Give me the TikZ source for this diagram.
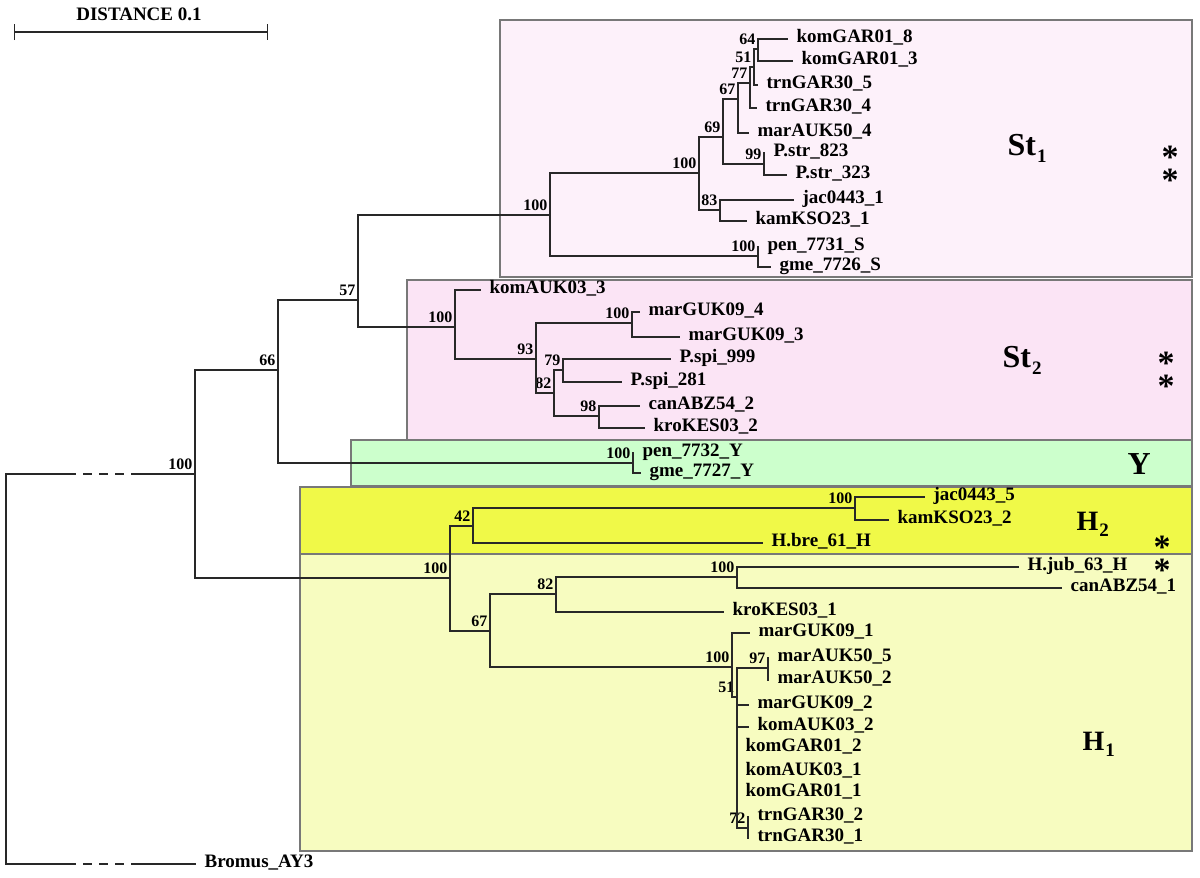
\documentclass[tikz,border=0pt]{standalone}
\usepackage{fontspec}
\setmainfont{Liberation Serif}
\usetikzlibrary{arrows.meta}
\definecolor{stonefill}{RGB}{253,241,250}
\definecolor{sttwofill}{RGB}{251,228,245}
\definecolor{yfill}{RGB}{204,255,204}
\definecolor{htwofill}{RGB}{240,249,72}
\definecolor{honefill}{RGB}{247,252,192}
\definecolor{branchgray}{RGB}{40,40,40}
\definecolor{framegray}{RGB}{120,120,120}
\tikzset{
  elbow/.style={to path={|- (\tikztotarget)}},
  rootgap/.style={dash pattern=on 9pt off 7pt, dash phase=9pt},
  leaf/.style={anchor=west, inner xsep=8pt, inner ysep=0pt, text height=0.66em, text depth=0pt,
    font=\fontsize{19}{19}\selectfont\bfseries},
  boot/.style={anchor=south east, inner xsep=2pt, inner ysep=3.5pt, text height=0.68em, text depth=0pt,
    font=\fontsize{16}{16}\selectfont\bfseries},
  clade/.style={anchor=base west, inner sep=0pt, font=\fontsize{32}{32}\selectfont\bfseries},
  starmark/.style={anchor=center, inner sep=0pt, text height=0.4em, text depth=0pt,
    font=\fontsize{34}{34}\selectfont\bfseries},
  group/.style={draw=framegray, line width=1.2pt},
}
\begin{document}
\begin{tikzpicture}[x=1pt,y=-1pt,line width=1.2pt]
\useasboundingbox (0,0) rectangle (1200,878);
% clade boxes
\draw[group,fill=stonefill] (500,20) rectangle (1192,277);
\draw[group,fill=sttwofill] (407,280) rectangle (1192,440);
\draw[group,fill=yfill] (351,440) rectangle (1192,486);
\draw[group,fill=htwofill] (300,487) rectangle (1192,554);
\draw[group,fill=honefill] (300,554) rectangle (1192,851);

% scale bar
\coordinate (sbl) at (14,32);
\coordinate (sbr) at (268,32);
\draw[color=branchgray,{Bar[width=16pt]}-{Bar[width=16pt]}] (sbl) -- (sbr);
\node[anchor=base, inner sep=0pt, font=\fontsize{19}{19}\selectfont\bfseries] (dist) at (139,20) {DISTANCE 0.1};

% internal nodes
\coordinate (root) at (6,669);
\coordinate (gtl) at (76,474);
\coordinate (gtr) at (131,474);
\coordinate (gbl) at (76,864);
\coordinate (gbr) at (131,864);
\coordinate (a) at (195,474);
\coordinate (b) at (278,370);
\coordinate (c) at (358,300);
\coordinate (st) at (550,215);
\coordinate (d) at (699,173);
\coordinate (e) at (723,137);
\coordinate (f) at (738,99);
\coordinate (g) at (750,83);
\coordinate (h) at (754,67);
\coordinate (i) at (758,49);
\coordinate (j) at (764,164);
\coordinate (k) at (720,210);
\coordinate (l) at (758,256);
\coordinate (m) at (455,327);
\coordinate (n) at (536,359);
\coordinate (o) at (632,323);
\coordinate (p) at (554,393);
\coordinate (q) at (563,370);
\coordinate (r) at (599,416);
\coordinate (s) at (633,463);
\coordinate (t) at (450,578);
\coordinate (u) at (473,526);
\coordinate (v) at (855,508);
\coordinate (w) at (490,631);
\coordinate (x) at (556,594);
\coordinate (y) at (737,577);
\coordinate (z) at (732,667);
\coordinate (aa) at (737,697);
\coordinate (bb) at (768,668);
\coordinate (cc) at (748,828);

% leaves
\node[leaf] (komGARa) at (788,39) {komGAR01\_8};
\node[leaf] (komGARb) at (793,61) {komGAR01\_3};
\node[leaf] (trnGARa) at (758,85) {trnGAR30\_5};
\node[leaf] (trnGARb) at (757,108) {trnGAR30\_4};
\node[leaf] (marAUKa) at (749,133) {marAUK50\_4};
\node[leaf] (pstra) at (765,153) {P.str\_823};
\node[leaf] (pstrb) at (787,175) {P.str\_323};
\node[leaf] (jaca) at (794,200) {jac0443\_1};
\node[leaf] (kamKSOa) at (747,221) {kamKSO23\_1};
\node[leaf] (pens) at (759,247) {pen\_7731\_S};
\node[leaf] (gmes) at (771,267) {gme\_7726\_S};
\node[leaf] (komAUKa) at (481,290) {komAUK03\_3};
\node[leaf] (marGUKa) at (640,312) {marGUK09\_4};
\node[leaf] (marGUKb) at (680,337) {marGUK09\_3};
\node[leaf] (pspia) at (671,359) {P.spi\_999};
\node[leaf] (pspib) at (622,382) {P.spi\_281};
\node[leaf] (canABZa) at (640,406) {canABZ54\_2};
\node[leaf] (kroKESa) at (645,428) {kroKES03\_2};
\node[leaf] (peny) at (634,453) {pen\_7732\_Y};
\node[leaf] (gmey) at (641,473) {gme\_7727\_Y};
\node[leaf] (jacb) at (925,497) {jac0443\_5};
\node[leaf] (kamKSOb) at (889,520) {kamKSO23\_2};
\node[leaf] (hbre) at (763,543) {H.bre\_61\_H};
\node[leaf] (hjub) at (1019,567) {H.jub\_63\_H};
\node[leaf] (canABZb) at (1062,588) {canABZ54\_1};
\node[leaf] (kroKESb) at (724,612) {kroKES03\_1};
\node[leaf] (marGUKc) at (750,633) {marGUK09\_1};
\node[leaf] (marAUKb) at (769,658) {marAUK50\_5};
\node[leaf] (marAUKc) at (769,680) {marAUK50\_2};
\node[leaf] (marGUKd) at (749,705) {marGUK09\_2};
\node[leaf] (komAUKb) at (749,727) {komAUK03\_2};
\node[leaf] (komGARc) at (737,748) {komGAR01\_2};
\node[leaf] (komAUKc) at (737,772) {komAUK03\_1};
\node[leaf] (komGARd) at (737,793) {komGAR01\_1};
\node[leaf] (trnGARc) at (749,817) {trnGAR30\_2};
\node[leaf] (trnGARd) at (749,838) {trnGAR30\_1};
\node[leaf] (bromus) at (196,864) {Bromus\_AY3};

% support values
\node[boot] (sa) at (a) {100};
\node[boot] (sb) at (b) {66};
\node[boot] (sc) at (c) {57};
\node[boot] (sst) at (st) {100};
\node[boot] (sd) at (d) {100};
\node[boot] (se) at (e) {69};
\node[boot] (sf) at (f) {67};
\node[boot] (sg) at (g) {77};
\node[boot] (sh) at (h) {51};
\node[boot] (si) at (i) {64};
\node[boot] (sj) at (j) {99};
\node[boot] (sk) at (k) {83};
\node[boot] (sl) at (l) {100};
\node[boot] (sm) at (m) {100};
\node[boot] (sn) at (n) {93};
\node[boot] (so) at (o) {100};
\node[boot] (sp) at (p) {82};
\node[boot] (sq) at (q) {79};
\node[boot] (sr) at (r) {98};
\node[boot] (ss) at (s) {100};
\node[boot] (st0) at (t) {100};
\node[boot] (su) at (u) {42};
\node[boot] (sv) at (v) {100};
\node[boot] (sw) at (w) {67};
\node[boot] (sx) at (x) {82};
\node[boot] (sy) at (y) {100};
\node[boot] (sz) at (z) {100};
\node[boot] (saa) at (aa) {51};
\node[boot] (sbb) at (bb) {97};
\node[boot] (scc) at (cc) {72};

% clade names and marks
\node[clade] (lstone) at (1007,155) {St\hspace{1pt}\raisebox{-7pt}{\fontsize{19}{19}\selectfont 1}};
\node[clade] (lsttwo) at (1002,367) {St\hspace{1pt}\raisebox{-7pt}{\fontsize{19}{19}\selectfont 2}};
\node[clade] (ly) at (1127,474) {Y};
\node[clade, font=\fontsize{28}{28}\selectfont\bfseries] (lhtwo) at (1076,530) {H\hspace{1pt}\raisebox{-6pt}{\fontsize{19}{19}\selectfont 2}};
\node[clade, font=\fontsize{28}{28}\selectfont\bfseries] (lhone) at (1082,750) {H\hspace{1pt}\raisebox{-6pt}{\fontsize{19}{19}\selectfont 1}};
\node[starmark] (ka) at (1170,153) {\raisebox{-0.4em}{*}};
\node[starmark] (kb) at (1170,176) {\raisebox{-0.4em}{*}};
\node[starmark] (kc) at (1166,359) {\raisebox{-0.4em}{*}};
\node[starmark] (kd) at (1166,382) {\raisebox{-0.4em}{*}};
\node[starmark] (ke) at (1162,543) {\raisebox{-0.4em}{*}};
\node[starmark] (kf) at (1162,566) {\raisebox{-0.4em}{*}};

% branches
\draw[color=branchgray]
  (root) edge[elbow] (gtl)
  (root) edge[elbow] (gbl)
  (gtl) edge[rootgap] (gtr)
  (gbl) edge[rootgap] (gbr)
  (gtr) edge (a)
  (gbr) edge (bromus)
  (a) edge[elbow] (b)
  (a) edge[elbow] (t)
  (b) edge[elbow] (c)
  (b) edge[elbow] (s)
  (c) edge[elbow] (st)
  (c) edge[elbow] (m)
  (st) edge[elbow] (d)
  (st) edge[elbow] (l)
  (d) edge[elbow] (e)
  (d) edge[elbow] (k)
  (e) edge[elbow] (f)
  (e) edge[elbow] (j)
  (f) edge[elbow] (g)
  (f) edge[elbow] (marAUKa)
  (g) edge[elbow] (h)
  (g) edge[elbow] (trnGARb)
  (h) edge[elbow] (i)
  (h) edge[elbow] (trnGARa)
  (i) edge[elbow] (komGARa)
  (i) edge[elbow] (komGARb)
  (j) edge[elbow] (pstra)
  (j) edge[elbow] (pstrb)
  (k) edge[elbow] (jaca)
  (k) edge[elbow] (kamKSOa)
  (l) edge[elbow] (pens)
  (l) edge[elbow] (gmes)
  (m) edge[elbow] (komAUKa)
  (m) edge[elbow] (n)
  (n) edge[elbow] (o)
  (n) edge[elbow] (p)
  (o) edge[elbow] (marGUKa)
  (o) edge[elbow] (marGUKb)
  (p) edge[elbow] (q)
  (p) edge[elbow] (r)
  (q) edge[elbow] (pspia)
  (q) edge[elbow] (pspib)
  (r) edge[elbow] (canABZa)
  (r) edge[elbow] (kroKESa)
  (s) edge[elbow] (peny)
  (s) edge[elbow] (gmey)
  (t) edge[elbow] (u)
  (t) edge[elbow] (w)
  (u) edge[elbow] (v)
  (u) edge[elbow] (hbre)
  (v) edge[elbow] (jacb)
  (v) edge[elbow] (kamKSOb)
  (w) edge[elbow] (x)
  (w) edge[elbow] (z)
  (x) edge[elbow] (y)
  (x) edge[elbow] (kroKESb)
  (y) edge[elbow] (hjub)
  (y) edge[elbow] (canABZb)
  (z) edge[elbow] (marGUKc)
  (z) edge[elbow] (aa)
  (aa) edge[elbow] (bb)
  (aa) edge[elbow] (marGUKd)
  (aa) edge[elbow] (komAUKb)
  (aa) edge[elbow] (cc)
  (bb) edge[elbow] (marAUKb)
  (bb) edge[elbow] (marAUKc)
  (cc) edge[elbow] (trnGARc)
  (cc) edge[elbow] (trnGARd)
  ;
\end{tikzpicture}
\end{document}
